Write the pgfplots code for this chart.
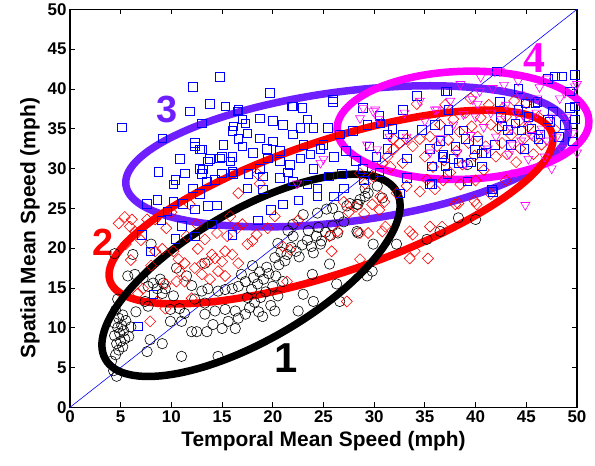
\documentclass[border=0pt]{standalone}
\usepackage{pgfplots}
\pgfplotsset{compat=1.18}
\usepackage{fontspec}
\setmainfont{Liberation Sans}
\newfontfamily\serifb{Liberation Serif}
\definecolor{myviolet}{RGB}{110,30,255}
\definecolor{mymag}{RGB}{255,0,255}
\begin{document}
\begin{tikzpicture}
\begin{axis}[
  scale only axis, width=507bp, height=398bp,
  xmin=0, xmax=50, ymin=0, ymax=50,
  xtick={0,5,...,50}, ytick={0,5,...,50},
  tick align=inside, major tick length=5bp,
  axis line style={line width=1.5bp},
  every tick/.style={black, line width=0.8bp},
  clip=false,
  /pgf/number format/assume math mode=true,
  tick label style={font=\bfseries\fontsize{17}{17}\selectfont},
  xlabel={Temporal Mean Speed (mph)},
  ylabel={Spatial Mean Speed (mph)},
  xlabel style={font=\bfseries\fontsize{21}{21}\selectfont, at={(axis description cs:0.5,-0.085)}, anchor=center},
  ylabel style={font=\bfseries\fontsize{21}{21}\selectfont, at={(axis description cs:-0.079,0.45)}, anchor=center},
]
\addplot[blue, line width=0.6bp] coordinates {(0,0) (50,50)};
% cluster 1: black circles
\addplot[only marks, mark=o, mark size=5.2bp, mark options={black, line width=0.6bp}] table {
x y
4.6 3.9
4.3 4.6
4.1 5.8
4.5 6.6
4.8 7.2
5.2 7.6
4.6 8.0
5.0 8.3
5.4 8.6
4.4 9.0
4.9 9.3
5.3 9.6
4.7 10.0
5.1 10.3
4.4 10.6
5.5 10.9
4.8 11.2
5.2 11.6
4.5 12.2
5.8 8.9
6.0 10.1
4.4 19.3
6.2 19.2
5.7 16.5
6.4 16.7
7.2 16.2
7.7 15.2
8.2 15.6
8.6 14.9
9.2 15.6
9.4 14.9
9.1 14.3
8.9 16.1
7.4 13.3
7.7 12.7
9.9 12.3
10.8 12.4
9.9 10.8
11.0 10.8
11.3 11.8
9.1 8.0
7.9 8.5
7.6 7.0
11.0 6.4
12.0 9.5
12.5 9.5
13.5 9.5
14.1 10.4
15.0 9.9
16.3 9.9
15.6 10.8
16.6 11.2
17.3 11.7
16.3 12.1
15.3 12.3
14.3 12.1
13.3 11.7
13.3 13.1
12.3 13.6
13.0 14.6
13.6 14.9
14.6 14.6
15.3 14.8
16.0 14.9
16.6 15.2
17.3 15.8
16.9 16.7
13.3 18.1
14.6 6.4
4.7 13.6
6.5 12.0
10.5 17.5
8.0 20.5
11.5 16.5
12.0 15.3
10.2 14.0
17.7 12.5
18.2 13.2
18.8 13.8
19.3 14.5
17.9 14.8
18.5 15.5
19.1 16.1
19.6 16.8
18.1 16.3
18.7 17.0
19.4 17.6
20.0 15.2
20.5 14.0
19.8 12.8
18.6 12.0
17.5 13.8
18.0 17.8
20.3 16.5
21.0 15.8
20.6 17.9
20.2 18.8
20.8 19.5
21.4 19.2
21.8 20.1
22.3 19.6
22.9 20.4
23.4 21.0
23.8 20.2
24.3 21.5
24.8 20.9
25.2 22.0
25.7 21.6
21.2 18.4
22.6 18.9
24.0 19.4
23.5 22.2
24.5 22.6
25.9 22.8
26.4 21.9
22.0 21.5
20.5 20.6
25.6 18.0
23.9 16.7
23.0 14.2
24.0 13.3
22.5 12.1
20.2 12.1
19.0 11.4
26.3 15.5
26.6 13.3
29.9 20.5
28.3 22.1
29.3 16.5
29.8 17.1
32.2 20.5
35.2 21.1
36.5 22.1
28.4 21.9
24.7 20.5
40.0 23.6
38.3 23.8
39.2 30.5
30.8 26.3
29.1 27.5
28.4 25.5
23.0 24.2
24.4 24.4
25.3 24.9
25.9 25.0
27.3 25.3
27.6 25.6
28.3 25.5
28.6 26.1
29.1 26.5
29.4 26.9
30.3 27.8
26.5 24.0
27.0 23.3
22.0 23.0
21.5 22.2
};
% cluster 2: red diamonds
\addplot[only marks, mark=square, mark size=3.9bp, mark options={red, rotate=45, line width=0.6bp}] table {
x y
4.8 23.1
5.4 23.9
5.9 22.7
6.4 22.1
6.1 23.6
7.6 23.6
8.4 23.6
8.4 19.6
9.1 19.9
10.2 19.6
10.7 18.6
11.3 18.1
10.8 17.1
12.3 17.5
13.0 18.0
13.6 18.3
14.3 18.7
15.0 18.3
15.3 19.6
16.0 19.2
16.6 18.1
13.0 16.7
13.8 16.1
14.6 17.1
15.3 16.5
11.3 15.8
10.5 15.8
9.4 15.5
7.2 14.9
6.7 14.3
8.6 13.3
9.4 12.4
7.9 10.8
12.0 13.7
12.6 19.9
13.3 21.1
14.5 21.9
15.5 21.5
14.0 19.2
16.6 26.9
18.7 28.1
18.5 29.3
20.2 24.0
7.0 21.0
9.5 22.5
11.5 21.5
10.0 24.5
12.5 23.0
16.5 22.5
17.5 20.5
8.0 17.8
6.0 18.5
5.5 20.5
11.8 25.5
15.8 24.0
17.0 23.0
18.0 20.9
18.4 21.7
21.0 20.2
21.7 19.8
21.4 15.8
19.5 22.5
22.5 23.5
25.8 19.6
25.6 21.5
26.4 22.1
28.6 18.6
29.4 21.9
30.8 22.1
31.1 22.7
33.5 18.7
27.3 13.3
33.5 22.1
33.8 21.7
35.5 22.7
36.7 22.7
38.0 25.5
40.1 25.5
34.0 19.6
35.3 18.7
28.6 21.9
27.5 24.5
28.2 25.2
29.0 24.3
29.8 25.5
30.5 24.8
31.0 25.8
27.0 25.8
28.6 29.4
29.1 28.1
29.9 29.0
30.8 30.7
31.3 31.5
31.9 32.4
32.5 33.2
33.2 33.7
33.8 32.8
31.6 30.2
32.8 30.7
30.6 26.5
32.2 26.9
33.2 27.8
34.5 27.1
36.0 27.4
38.3 25.6
39.9 25.9
31.9 33.7
34.2 38.1
34.5 33.7
35.0 31.5
35.5 34.0
35.8 30.2
36.2 32.8
36.5 35.5
36.9 31.0
37.3 33.6
37.5 29.5
37.8 36.2
38.1 32.2
38.4 34.6
38.7 30.5
39.0 37.0
39.3 33.2
39.6 35.3
39.9 31.6
40.2 34.0
40.5 36.4
40.8 29.8
41.0 32.8
41.3 38.0
35.2 28.6
36.8 28.5
38.5 28.0
40.0 28.5
42.7 37.6
43.1 31.8
44.4 32.5
45.7 31.8
42.2 35.0
42.6 33.2
43.0 36.5
43.5 34.2
44.0 30.8
44.3 36.0
44.8 33.8
45.2 35.3
45.8 34.0
46.2 36.5
46.5 33.0
47.8 34.9
41.5 35.5
42.0 31.5
43.8 38.5
39.5 38.8
37.0 38.0
45.0 38.2
41.5 26.8
43.0 28.5
};
% cluster 3: blue squares
\addplot[only marks, mark=square, mark size=4.3bp, mark options={blue, line width=0.6bp}] table {
x y
5.1 35.2
12.1 40.3
14.8 41.5
19.7 39.5
11.8 37.2
13.8 38.1
15.3 37.8
16.5 37.2
18.7 36.3
9.1 33.8
8.7 29.6
10.4 28.6
11.3 29.4
10.2 28.0
7.6 25.6
8.6 26.1
12.3 33.2
12.8 32.4
10.8 31.2
15.1 33.0
16.1 35.3
17.0 36.2
17.5 34.4
18.7 33.8
19.4 32.5
20.0 33.4
20.7 32.2
22.0 37.8
22.9 37.6
23.4 36.2
24.0 35.1
22.7 35.1
22.0 34.3
13.8 31.2
14.8 31.3
13.1 29.9
15.8 30.9
16.1 29.3
13.5 28.4
12.1 27.5
12.8 26.8
17.6 29.3
18.7 30.0
19.5 31.3
20.7 30.9
21.7 30.5
22.7 31.3
23.7 31.8
24.7 32.5
17.5 27.5
19.0 27.4
20.7 28.8
22.0 28.4
23.4 28.0
24.4 27.5
10.2 25.9
11.1 25.6
9.6 24.6
12.3 24.9
13.6 25.3
14.5 25.4
13.0 29.3
14.3 28.6
15.0 29.4
16.0 29.6
13.6 30.9
12.8 30.0
12.3 32.8
13.0 32.4
15.0 31.5
16.0 31.5
17.0 32.8
16.0 34.7
16.6 33.7
17.3 35.7
16.6 37.4
13.0 35.7
6.7 10.2
8.2 14.2
7.9 19.6
10.4 21.2
7.1 21.7
16.0 21.7
12.3 21.5
11.0 22.8
14.0 23.0
9.0 23.5
18.5 23.5
19.8 24.8
21.0 25.5
22.5 26.0
26.0 26.5
24.4 26.5
25.9 38.7
21.9 37.8
25.4 35.1
26.6 34.3
27.9 34.7
31.3 34.3
32.8 34.3
30.6 35.7
32.8 37.4
28.9 37.6
25.9 38.4
29.3 35.5
30.5 36.6
31.8 35.0
26.8 29.3
28.9 30.0
31.3 32.5
33.2 31.3
35.5 32.5
36.8 31.8
33.2 28.8
35.5 28.0
37.2 29.3
39.2 28.4
41.7 27.1
32.5 26.9
25.0 33.0
26.0 31.5
27.2 32.2
28.2 31.0
29.5 32.8
30.2 31.5
24.0 30.0
25.5 29.0
27.0 27.5
29.0 28.5
30.5 29.5
21.0 35.5
20.0 36.0
18.0 32.0
19.0 29.0
21.5 29.5
23.0 33.0
37.2 39.7
34.2 39.1
42.1 42.2
47.1 41.3
48.5 41.6
49.8 41.8
49.3 39.7
42.4 38.4
44.2 37.4
46.1 38.4
47.6 37.2
49.3 37.6
49.8 36.2
47.3 35.9
46.4 34.3
49.6 33.4
37.0 39.7
37.3 37.4
44.2 40.0
44.9 38.2
45.9 38.2
47.8 41.6
49.8 37.8
47.1 36.2
46.2 33.7
43.9 35.7
42.6 35.3
43.2 34.9
41.9 33.0
40.6 31.9
39.9 32.4
39.0 33.7
38.0 32.8
36.7 31.5
35.7 30.3
37.0 30.3
38.3 30.7
40.6 30.3
35.7 28.1
41.6 27.4
37.3 34.9
34.7 34.9
36.5 33.5
37.8 31.2
38.8 34.8
39.5 30.8
40.2 33.5
41.0 32.0
36.0 35.5
42.5 36.5
43.5 33.0
44.5 34.8
45.2 36.5
44.8 32.5
45.5 35.0
48.2 34.0
48.8 35.5
};
% cluster 4: magenta down triangles
\addplot[only marks, mark=triangle, mark size=5.2bp, mark options={mymag, rotate=180, line width=0.6bp}] table {
x y
28.9 37.6
30.1 37.4
28.6 36.3
29.3 33.0
30.3 32.4
33.2 34.0
24.7 30.7
22.4 28.1
25.0 31.2
29.9 37.2
30.4 36.2
36.2 37.4
39.7 38.7
42.4 42.2
47.0 41.3
50.0 40.6
48.3 38.8
46.1 38.8
44.4 39.3
41.7 40.1
40.4 39.7
38.5 40.6
41.9 42.2
49.8 40.3
36.0 37.4
40.2 38.1
44.9 25.4
50.0 32.0
49.6 34.5
49.0 36.5
40.0 36.5
40.8 35.2
41.5 37.0
42.0 34.0
42.5 36.2
43.0 38.0
43.5 35.0
44.0 37.0
44.5 33.5
45.0 36.0
45.5 34.2
46.0 37.0
46.5 35.0
47.0 33.5
47.5 36.5
48.0 34.0
48.5 32.5
45.2 31.2
43.3 31.8
41.2 32.5
39.5 34.2
38.8 36.8
37.5 38.5
35.0 36.0
34.5 38.5
33.0 37.0
37.8 35.5
36.5 33.8
38.2 32.0
42.8 40.5
44.2 41.0
46.3 40.2
48.8 39.5
40.5 41.5
43.6 33.0
46.8 31.5
47.5 30.0
44.0 29.5
39.0 30.5
35.5 32.0
31.5 34.0
};
% ellipses
\draw[myviolet, line width=7.5bp, rotate around={7.4:(axis cs:27.32,31.53)}] (axis cs:27.32,31.53) ellipse [x radius=223bp, y radius=65bp];
\draw[mymag, line width=7.5bp, rotate around={2:(axis cs:38.76,35.43)}] (axis cs:38.76,35.43) ellipse [x radius=126bp, y radius=54bp];
\draw[red, line width=7.5bp, rotate around={18.5:(axis cs:25.74,25.16)}] (axis cs:25.74,25.16) ellipse [x radius=233bp, y radius=66bp];
\draw[black, line width=7.5bp, rotate around={30:(axis cs:17.85,16.58)}] (axis cs:17.85,16.58) ellipse [x radius=168bp, y radius=65bp];
% labels
\node[font=\bfseries\fontsize{42}{42}\selectfont, black] at (axis cs:21.3,6.16) {1};
\node[font=\bfseries\fontsize{38}{38}\selectfont, red] at (axis cs:3.25,20.73) {2};
\node[font=\bfseries\fontsize{38}{38}\selectfont, myviolet] at (axis cs:9.57,37.44) {3};
\node[font=\serifb\bfseries\fontsize{44}{44}\selectfont, mymag] at (axis cs:45.76,43.84) {4};
\end{axis}
\path ([shift={(-70bp,-58bp)}]current axis.south west) rectangle +(595bp,464bp);
\end{tikzpicture}
\end{document}
